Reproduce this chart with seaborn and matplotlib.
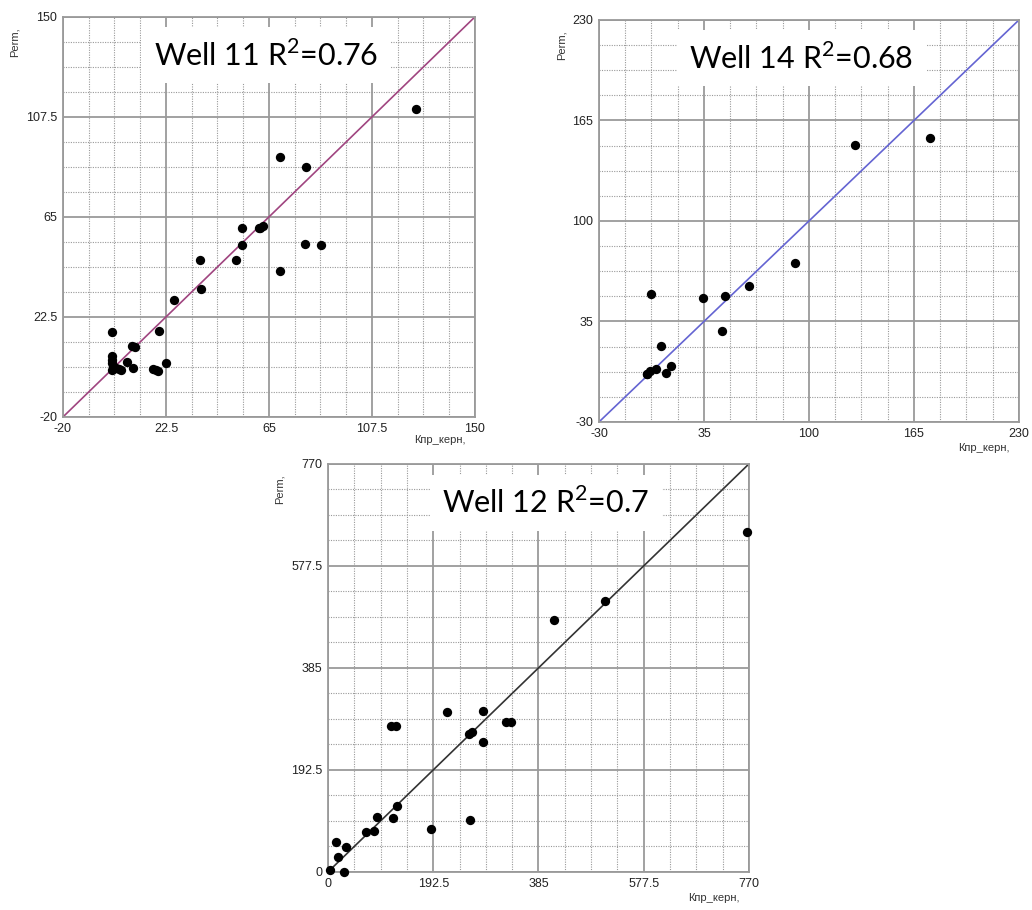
import matplotlib
matplotlib.use("Agg")
import matplotlib.pyplot as plt
import seaborn as sns
import pandas as pd
from matplotlib.ticker import AutoMinorLocator

# Well 11: core permeability vs log permeability
w11_core = [125.8, 69.4, 80.4, 54.0, 60.9, 61.4, 62.5, 54.0, 79.7, 86.4, 51.5, 36.6,
            69.4, 36.9, 25.9, 0.2, 19.5, 8.3, 9.9, 6.4, 22.6, 9.1, 17.2, 18.2, 19.4,
            0.2, 0.4, 0.2, 0.5, 0.2, 1.7, 3.1, 4.0, 1.0]
w11_perm = [110.8, 90.5, 86.4, 60.3, 60.2, 60.5, 61.3, 53.0, 53.4, 53.1, 46.9, 46.5,
            42.2, 34.2, 29.6, 15.9, 16.4, 10.1, 9.7, 3.3, 3.1, 0.6, 0.4, 0.1, -0.3,
            5.7, 4.3, 2.9, 1.5, 0.1, 0.8, 0.4, 0.1, 0.6]
w11_ticks = [-20, 22.5, 65, 107.5, 150]
w11_labels = ["-20", "22.5", "65", "107.5", "150"]

# Well 14
w14_core = [175.1, 128.5, 91.5, 63.1, 48.0, 34.6, 46.4, 2.2, 8.4, 14.6, 11.7, 5.3,
            1.6, -0.5, -0.1]
w14_perm = [153.6, 148.9, 72.5, 58.0, 51.3, 50.3, 28.7, 52.6, 19.4, 6.5, 1.9, 4.1,
            3.0, 1.3, 0.9]
w14_ticks = [-30, 35, 100, 165, 230]
w14_labels = ["-30", "35", "100", "165", "230"]

# Well 12
w12_core = [767, 506.7, 414, 284.1, 217.7, 326.2, 335.4, 115.9, 123.8, 257.9, 262.8,
            284.1, 125.6, 90.2, 119.5, 260.4, 187.8, 69.5, 84.1, 14.6, 32.3, 18.3,
            3.7, 28.7]
w12_perm = [641.7, 512, 474.8, 303.5, 301.6, 283.4, 283.4, 275.2, 275.2, 259.4, 263.2,
            245, 125.3, 103.9, 102, 97.6, 81.2, 74.9, 76.8, 56, 46.6, 27.7, 4.4, 0]
w12_ticks = [0, 192.5, 385, 577.5, 770]
w12_labels = ["0", "192.5", "385", "577.5", "770"]

sns.set_style("white")
plt.rcParams["font.family"] = ["Liberation Sans", "DejaVu Sans"]
plt.rcParams["mathtext.fontset"] = "custom"
plt.rcParams["mathtext.rm"] = "Lato"

fig = plt.figure(figsize=(10.32, 9.10), dpi=100)

panels = [
    dict(pos=[0.0610, 0.5418, 0.3992, 0.4396], x=w11_core, y=w11_perm,
         ticks=w11_ticks, labels=w11_labels, color="#a04580",
         title="Well 11 R$^2$=0.76", tx=0.493, ylx=-0.117, xly=-0.058),
    dict(pos=[0.5804, 0.5363, 0.4070, 0.4418], x=w14_core, y=w14_perm,
         ticks=w14_ticks, labels=w14_labels, color="#6464d2",
         title="Well 14 R$^2$=0.68", tx=0.482, ylx=-0.088, xly=-0.065),
    dict(pos=[0.3178, 0.0418, 0.4079, 0.4484], x=w12_core, y=w12_perm,
         ticks=w12_ticks, labels=w12_labels, color="#333333",
         title="Well 12 R$^2$=0.7", tx=0.517, ylx=-0.114, xly=-0.064),
]

for p in panels:
    ax = fig.add_axes(p["pos"])
    df = pd.DataFrame({"core": p["x"], "perm": p["y"]})
    lo, hi = p["ticks"][0], p["ticks"][-1]

    ax.set_xlim(lo, hi)
    ax.set_ylim(lo, hi)
    ax.set_xticks(p["ticks"])
    ax.set_yticks(p["ticks"])
    ax.set_xticklabels(p["labels"])
    ax.set_yticklabels(p["labels"])
    ax.xaxis.set_minor_locator(AutoMinorLocator(4))
    ax.yaxis.set_minor_locator(AutoMinorLocator(4))
    ax.set_axisbelow(True)
    ax.grid(which="major", color="#9a9a9a", linewidth=1.3, linestyle="-")
    ax.grid(which="minor", color="#999999", linewidth=0.8, linestyle=(0, (1, 1.2)))
    ax.tick_params(which="both", length=0, labelsize=9, labelcolor="#222222", pad=4)
    for s in ax.spines.values():
        s.set_color("#9a9a9a")
        s.set_linewidth(1.3)

    ax.axline((lo, lo), slope=1, color=p["color"], linewidth=1.2, zorder=2)
    sns.scatterplot(data=df, x="core", y="perm", ax=ax, color="black", s=45,
                    linewidth=0, zorder=3, clip_on=False)
    ax.set_xlabel("")
    ax.set_ylabel("")

    ax.text(p["tx"], 0.905, p["title"], transform=ax.transAxes, ha="center",
            va="center", fontsize=22, family="Lato", color="black", zorder=5,
            bbox=dict(facecolor="white", edgecolor="none", pad=9))
    ax.text(p["ylx"], 0.975, "Perm,", transform=ax.transAxes, rotation=90,
            ha="center", va="top", fontsize=8, color="#333333")
    ax.text(0.978, p["xly"], "Кпр_керн,", transform=ax.transAxes, ha="right",
            va="center", fontsize=8, color="#333333")

fig.savefig("out.png", dpi=100)
